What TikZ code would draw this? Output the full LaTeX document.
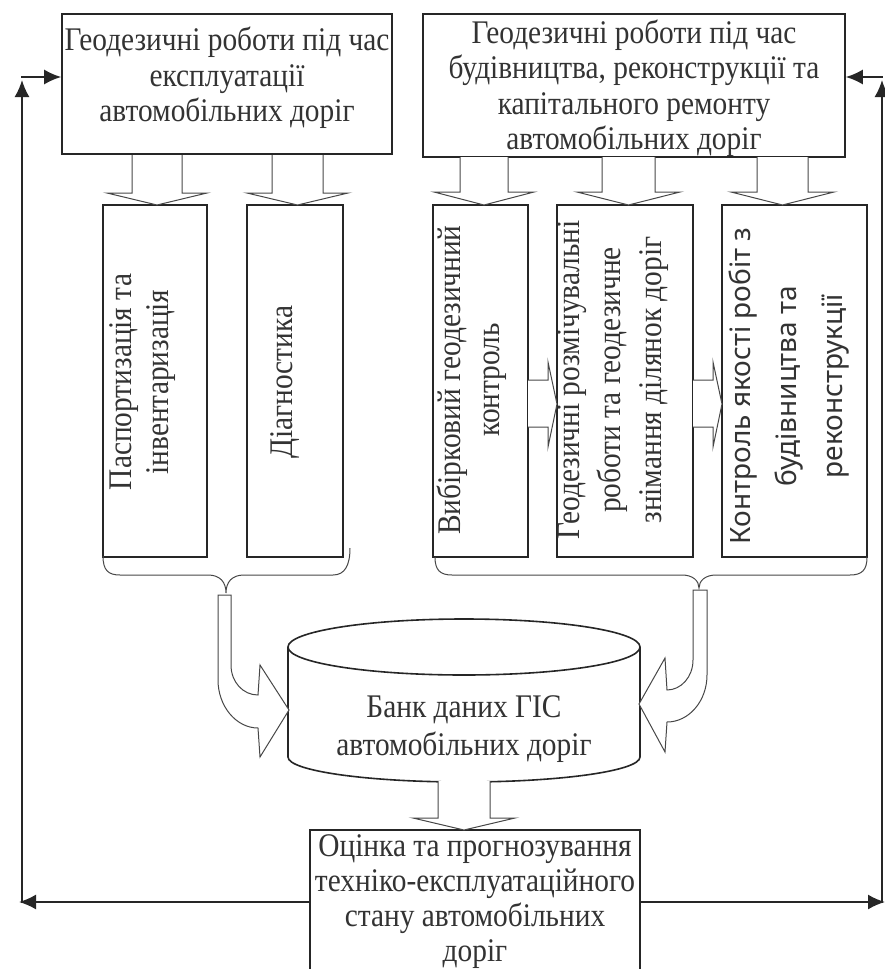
\documentclass[tikz,border=0pt]{standalone}
\usepackage{fontspec}
\setmainfont{Liberation Serif}[FakeStretch=0.89]
\newfontfamily\gothic{Noto Sans}
\usetikzlibrary{arrows.meta}
\definecolor{ink}{HTML}{262626}
\definecolor{txt}{HTML}{333333}
\newcommand\hdownarrow[6]{%
  \draw[hol] ({#1-#4},#2) -- ({#1-#4},{#3-#6}) -- ({#1-#5},{#3-#6}) -- (#1,#3)
    -- ({#1+#5},{#3-#6}) -- ({#1+#4},{#3-#6}) -- ({#1+#4},#2);}
\tikzset{
  box/.style={draw=ink, line width=1.6pt, fill=white, inner sep=0pt},
  hol/.style={draw=ink!85, line width=1pt, fill=white, line join=miter},
  brc/.style={draw=ink!85, line width=1pt},
  fb/.style={draw=ink, line width=1.8pt},
  tipped/.style={-{Latex[length=17pt,width=15pt]}},
  lbl/.style={text=txt, font=\fontsize{33}{35.5}\selectfont, align=center, inner sep=0pt},
  glbl/.style={text=txt, font=\gothic\fontsize{28}{46}\selectfont, align=center, inner sep=0pt},
}
\begin{document}
\begin{tikzpicture}[x=1pt,y=-1pt]
\useasboundingbox (0,0) rectangle (885,969);
\clip (0,0) rectangle (885,969);
\fill[white] (0,0) rectangle (885,969);

% top boxes
\node[box, minimum width=330pt, minimum height=140pt] (tl) at (227,84) {};
\node[lbl] (tlt) at (227,78) {Геодезичні роботи під час\\експлуатації\\автомобільних доріг};
\node[box, minimum width=422pt, minimum height=143pt] (tr) at (634,85.5) {};
\node[lbl] (trt) at (634,88) {Геодезичні роботи під час\\будівництва, реконструкції та\\капітального ремонту\\автомобільних доріг};

% vertical boxes
\node[box, rotate=90, minimum width=352pt, minimum height=104pt] (b1) at (155,381) {};
\node[lbl, rotate=90, font=\fontsize{33}{37}\selectfont] (b1t) at (143,382) {Паспортизація та\\інвентаризація};
\node[box, rotate=90, minimum width=352pt, minimum height=96pt] (b2) at (295,381) {};
\node[lbl, rotate=90] (b2t) at (285,382) {Діагностика};
\node[box, rotate=90, minimum width=352pt, minimum height=95pt] (b3) at (480.5,381) {};
\node[lbl, rotate=90, font=\fontsize{33}{39}\selectfont] (b3t) at (472,380) {Вибірковий геодезичний\\контроль};
\node[box, rotate=90, minimum width=352pt, minimum height=136pt] (b4) at (625,381) {};
\node[lbl, rotate=90, font=\fontsize{33}{41}\selectfont] (b4t) at (613,380) {Геодезичні розмічувальні\\роботи та геодезичне\\знімання ділянок доріг};
\node[box, rotate=90, minimum width=352pt, minimum height=145pt] (b5) at (794.5,381) {};
\node[glbl, rotate=90] (b5t) at (789,386) {Контроль якості робіт з\\будівництва та\\реконструкції};

% down hollow arrows from top boxes
\hdownarrow{157}{155}{205}{25}{50}{12}
\hdownarrow{297.5}{155}{205}{25.5}{50.5}{12}
\hdownarrow{484}{157}{205}{24}{50}{13}
\hdownarrow{628.5}{157}{205}{26.5}{51.5}{13}
\hdownarrow{782.5}{157}{205}{25.5}{51.5}{13}

% horizontal hollow arrows
\draw[hol] (528,380) -- (548,380) -- (548,362) -- (557,404) -- (548,447) -- (548,427) -- (528,427);
\draw[hol] (693,380) -- (713,380) -- (713,362) -- (722,404) -- (713,447) -- (713,427) -- (693,427);

% braces
\draw[brc] (103,556) .. controls (103,570) and (108,575) .. (120,575) -- (208,575)
  .. controls (220,575) and (226,582) .. (226,593)
  .. controls (226,582) and (232,575) .. (244,575) -- (333,575)
  .. controls (345,575) and (350,565) .. (350,548);
\draw[brc] (435,557) .. controls (435,570) and (440,575) .. (452,575) -- (682,575)
  .. controls (693,575) and (699,581) .. (699,588)
  .. controls (699,581) and (705,575) .. (716,575) -- (850,575)
  .. controls (862,575) and (867,570) .. (867,557);

% database cylinder
\draw[box] (288,647) -- (288,757) arc[start angle=180, end angle=360, x radius=176pt, y radius=25pt] -- (640,647);
\draw[box] (464,647) ellipse [x radius=176pt, y radius=28pt];
\node[lbl, font=\fontsize{33}{38}\selectfont] (db) at (464,729) {Банк даних ГІС\\автомобільних доріг};

% curved hollow arrows into the database
\draw[hol] (218,595) -- (231,595) -- (231,665) .. controls (231,682) and (243,695) .. (258,695)
  -- (260,665) -- (289,710) -- (260,757) -- (258,728)
  .. controls (236,728) and (218,706) .. (218,680) -- cycle;
\draw[hol] (707,590) -- (693,590) -- (693,660) .. controls (693,677) and (681,690) .. (667,690)
  -- (665,658) -- (639,704) -- (665,752) -- (667,722)
  .. controls (689,722) and (707,701) .. (707,675) -- cycle;

% bottom box
\node[box, minimum width=330pt, minimum height=160pt] (bot) at (475,910) {};
\node[lbl, font=\fontsize{33}{35}\selectfont] (bott) at (475,902) {Оцінка та прогнозування\\техніко-експлуатаційного\\стану автомобільних\\доріг};
\hdownarrow{464}{781}{830}{26}{51}{12}

% feedback lines
\coordinate (yl) at (0,902);
\coordinate (lbc) at (22,903);
\coordinate (ltc) at (22,77);
\coordinate (rbc) at (882,903);
\coordinate (rtc) at (882,77);
\draw[fb,tipped] (bot.west|-yl) -- (19,902);
\draw[fb,tipped] (lbc) -- (22,80);
\draw[fb,tipped] (21.1,77) -- (tl.west|-ltc);
\draw[fb,tipped] (bot.east|-yl) -- (885,902);
\draw[fb,tipped] (rbc) -- (882,80);
\draw[fb,tipped] (882.9,77) -- (tr.east|-rtc);
\end{tikzpicture}
\end{document}
